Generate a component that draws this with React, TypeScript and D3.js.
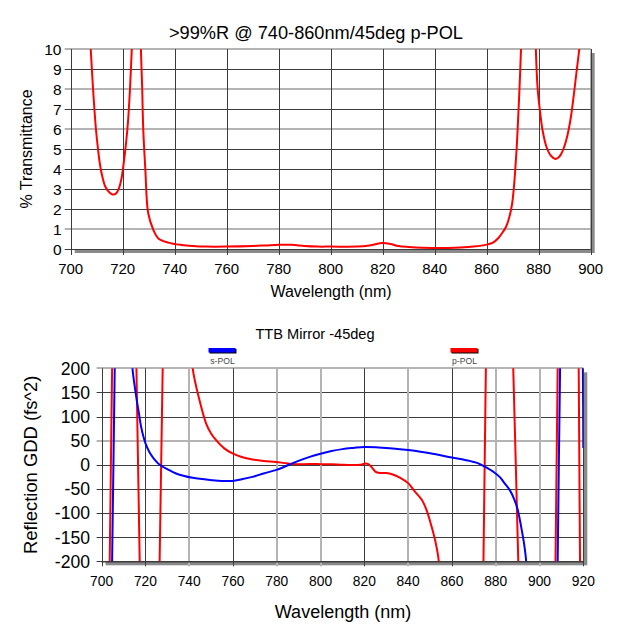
import React from 'react';
import * as d3 from 'd3';

type P = [number, number];

// ---------- Top chart data: p-POL transmittance (%) ----------
const topTitle = '>99%R @ 740-860nm/45deg p-POL';
const topXTicks = [700, 720, 740, 760, 780, 800, 820, 840, 860, 880, 900];
const topYTicks = [0, 1, 2, 3, 4, 5, 6, 7, 8, 9, 10];
const topSoftY = [10, 8, 6, 1];

const transBandLow: P[] = [
  [706, 14], [707.7, 10], [708.6, 8], [709.7, 6], [710.5, 5], [711.3, 4.2], [712.2, 3.6],
  [713.2, 3.15], [714.5, 2.88], [715.6, 2.76], [716.6, 2.72], [717.6, 2.8], [718.6, 3.05],
  [719.5, 3.5], [720.3, 4.2], [721.2, 5.2], [722, 6.3], [722.8, 8], [723.5, 10], [724.2, 13],
];
const transPassband: P[] = [
  [726.3, 14], [727, 10], [727.5, 8], [727.9, 6], [728.7, 4], [729.8, 1.8], [731.8, 0.95],
  [733.7, 0.53], [737.5, 0.32], [742.7, 0.2], [747, 0.15], [752, 0.12], [760, 0.12],
  [770, 0.15], [775, 0.18], [780, 0.21], [785, 0.21], [790, 0.15], [795, 0.12], [800, 0.12],
  [810, 0.12], [815, 0.18], [820, 0.3], [823, 0.25], [826, 0.15], [830, 0.1], [835, 0.06],
  [840, 0.05], [845, 0.05], [850, 0.07], [855, 0.12], [860, 0.22], [862.4, 0.32],
  [864.5, 0.55], [866.2, 0.85], [867.4, 1.1], [868.5, 1.5], [869.7, 2.2], [870.4, 3],
  [871, 4], [871.5, 5], [871.9, 6], [872.6, 8], [873.2, 10], [874, 14],
];
const transBandHigh: P[] = [
  [878.3, 14], [878.9, 10], [879.6, 8], [880.4, 7], [881.4, 6], [883, 5.1], [884.8, 4.65],
  [886.5, 4.5], [887.5, 4.56], [888.5, 4.72], [889.5, 5.0], [890.5, 5.4], [891.5, 5.95],
  [892.5, 6.7], [893.5, 7.7], [894.5, 8.8], [895.6, 10], [896.4, 11.2],
];

// ---------- Bottom chart data: reflection GDD (fs^2) ----------
const botTitle = 'TTB Mirror -45deg';
const botXTicks = [700, 720, 740, 760, 780, 800, 820, 840, 860, 880, 900, 920];
const botYTicks = [-200, -150, -100, -50, 0, 50, 100, 150, 200];
const botSoftY = [200, 50];
const botSoftX = [740, 780, 800, 840, 880, 900];

const sPolSegments: P[][] = [
  [[704.6, -260], [704.8, -200], [706.0, 200], [706.2, 260]],
  [
    [713.3, 260], [714.1, 200], [715.2, 160], [716.2, 130], [717, 108], [718, 80], [719, 60],
    [720, 45], [722, 25], [724, 12], [726.5, 0], [730, -9], [734, -18], [741.6, -27],
    [750.7, -32], [755, -33.5], [759.8, -33.5], [764, -30], [768.9, -25], [774, -18],
    [779.5, -11], [783, -5], [787, 3], [794.7, 16], [800, 23], [805, 28.5], [810, 32.5],
    [815, 35], [820, 37], [826.5, 36], [833, 34], [840, 30.5], [850, 24], [860, 15],
    [866, 10], [872, 3], [875, -4], [879.5, -16.5], [882, -26], [884, -38], [886.5, -53],
    [888.6, -73], [890, -92], [891.6, -128], [893, -165], [893.9, -200], [894.3, -260],
  ],
  [[908.2, -260], [908.3, -200], [909.4, 200], [909.6, 260]],
  [[919.6, 260], [919.8, 200], [920, 35]],
];

const pPolSegments: P[][] = [
  [[703.5, -260], [703.7, -200], [704.8, 200], [705, 260]],
  [[715.7, 260], [715.9, 200], [717.4, -200], [717.6, -260]],
  [[726.3, -260], [726.5, -200], [727.9, 200], [728.1, 260]],
  [
    [741, 260], [741.6, 200], [744.7, 134], [747.7, 86], [750, 65], [752.3, 51], [756, 34],
    [759.8, 23.6], [764, 16], [768.9, 11], [774, 8], [779.5, 6], [783, 4], [787, 1.5],
    [795, 1.5], [800, 1.4], [805, 1], [810, 0], [815, -0.5], [818, 0], [820.5, 2.5],
    [822, 1], [823.5, -6], [825, -14], [827, -17], [830, -17], [833, -20], [836, -26],
    [840, -38], [843, -55], [846.3, -73], [848.5, -95], [850.7, -128], [852.5, -160],
    [854, -200], [854.4, -260],
  ],
  [[874.2, -260], [874.4, -200], [875.5, 200], [875.7, 260]],
  [[887.7, 260], [888, 200], [890.3, -200], [890.5, -260]],
  [[907.1, -260], [907.3, -200], [908.3, 200], [908.5, 260]],
  [[917.8, 260], [917.9, 200], [918.5, -200], [918.6, -260]],
];

const legendNames = ['s-POL', 'p-POL'];
const legendColors = ['#0000ff', '#ff0000'];

const FONT = "Arial, 'Liberation Sans', Helvetica, sans-serif";
const DARK = '#3c3c3c';
const SOFT = '#b4b4b4';

export default function App() {
  // top scales
  const tx = d3.scaleLinear().domain([700, 900]).range([70.7, 590.7]);
  const ty = d3.scaleLinear().domain([0, 10]).range([249, 49]);
  // bottom scales
  const bx = d3.scaleLinear().domain([700, 920]).range([101.6, 583.3]);
  const by = d3.scaleLinear().domain([-200, 200]).range([561.3, 368.3]);

  const curve = d3.curveCatmullRom.alpha(0.5);
  const topLine = d3.line<P>().x((d) => tx(d[0])).y((d) => ty(d[1])).curve(curve);
  const botLine = d3.line<P>().x((d) => bx(d[0])).y((d) => by(d[1])).curve(curve);

  const [tx0, tx1] = tx.range();
  const [ty0, ty1] = [ty(10), ty(0)];
  const [bx0, bx1] = bx.range();
  const [by0, by1] = [by(200), by(-200)];

  return (
    <svg
      width={632}
      height={639}
      style={{ position: 'absolute', left: 0, top: 0, background: '#fff' }}
      fontFamily={FONT}
    >
      <defs>
        <clipPath id="clipTop">
          <rect x={tx0} y={ty0} width={tx1 - tx0} height={ty1 - ty0} />
        </clipPath>
        <clipPath id="clipBot">
          <rect x={bx0} y={by0} width={bx1 - bx0} height={by1 - by0} />
        </clipPath>
      </defs>
      <rect x={0} y={0} width={632} height={639} fill="#fff" />

      {/* ================= TOP CHART ================= */}
      <text x={316} y={33} textAnchor="middle" dy="0.35em" fontSize={18.2} fill="#000">
        {topTitle}
      </text>
      {/* shadow */}
      <rect x={tx0 + 4} y={ty0 + 4} width={tx1 - tx0} height={ty1 - ty0} fill="#8a8a8a" />
      <rect x={tx0} y={ty0} width={tx1 - tx0} height={ty1 - ty0} fill="#fff" />
      {topYTicks.map((v) => {
        const soft = topSoftY.includes(v);
        const y = Math.round(ty(v)) + (soft ? 0 : 0.5);
        return (
          <g key={'ty' + v}>
            <line x1={tx0 - 6} x2={tx1} y1={y} y2={y} stroke={soft ? SOFT : DARK} strokeWidth={soft ? 2 : 1} />
            <text x={61.5} y={ty(v)} textAnchor="end" dy="0.36em" fontSize={15.5} fill="#000">
              {v}
            </text>
          </g>
        );
      })}
      {topXTicks.map((v) => {
        const x = Math.round(tx(v)) + 0.5;
        return (
          <g key={'tx' + v}>
            <line x1={x} x2={x} y1={ty0} y2={ty1 + 6} stroke={DARK} strokeWidth={1} />
            <text x={tx(v)} y={268.5} textAnchor="middle" dy="0.36em" fontSize={15} fill="#000">
              {v}
            </text>
          </g>
        );
      })}
      <line x1={tx1 + 0.5} x2={tx1 + 0.5} y1={ty0} y2={ty1} stroke={DARK} />
      <g clipPath="url(#clipTop)" fill="none" stroke="#ff0000" strokeWidth={2}>
        <path d={topLine(transBandLow) || ''} />
        <path d={topLine(transPassband) || ''} />
        <path d={topLine(transBandHigh) || ''} />
      </g>
      <text x={331} y={291.5} textAnchor="middle" dy="0.36em" fontSize={16} fill="#000">
        Wavelength (nm)
      </text>
      <text
        transform={`translate(26,${(ty0 + ty1) / 2}) rotate(-90)`}
        textAnchor="middle"
        dy="0.36em"
        fontSize={16}
        fill="#000"
      >
        % Transmittance
      </text>

      {/* ================= BOTTOM CHART ================= */}
      <text x={315} y={334} textAnchor="middle" dy="0.36em" fontSize={14.6} fill="#000">
        {botTitle}
      </text>
      {legendNames.map((n, i) => {
        const cx = i === 0 ? 222.5 : 464.5;
        return (
          <g key={n}>
            <rect x={cx - 13} y={349} width={27} height={4.5} fill="#000" />
            <rect x={cx - 14} y={348} width={27} height={4.5} fill={legendColors[i]} />
            <text x={cx} y={361} textAnchor="middle" dy="0.36em" fontSize={8.6} fill="#444">
              {n}
            </text>
          </g>
        );
      })}
      <rect x={bx0 + 4} y={by0 + 4} width={bx1 - bx0} height={by1 - by0} fill="#8a8a8a" />
      <rect x={bx0} y={by0} width={bx1 - bx0} height={by1 - by0} fill="#fff" />
      {botYTicks.map((v) => {
        const soft = botSoftY.includes(v);
        const y = Math.round(by(v)) + (soft ? 0 : 0.5);
        return (
          <g key={'by' + v}>
            <line x1={bx0 - 5} x2={bx1} y1={y} y2={y} stroke={soft ? SOFT : DARK} strokeWidth={soft ? 2 : 1} />
            <text x={90} y={by(v)} textAnchor="end" dy="0.36em" fontSize={17.6} fill="#000">
              {v}
            </text>
          </g>
        );
      })}
      {botXTicks.map((v) => {
        const soft = botSoftX.includes(v);
        const x = Math.round(bx(v)) + (soft ? 0 : 0.5);
        return (
          <g key={'bx' + v}>
            <line x1={x} x2={x} y1={by0} y2={by1 + 5} stroke={soft ? SOFT : DARK} strokeWidth={soft ? 2 : 1} />
            <text x={bx(v)} y={581.5} textAnchor="middle" dy="0.36em" fontSize={13.8} fill="#000">
              {v}
            </text>
          </g>
        );
      })}
      <line x1={bx0} x2={bx1} y1={by1 + 0.5} y2={by1 + 0.5} stroke={DARK} strokeWidth={1.5} />
      <g clipPath="url(#clipBot)" fill="none" strokeWidth={2}>
        {pPolSegments.map((s, i) => (
          <path key={'p' + i} d={botLine(s) || ''} stroke="#ff0000" />
        ))}
        {sPolSegments.map((s, i) => (
          <path key={'s' + i} d={botLine(s) || ''} stroke="#0000ff" />
        ))}
      </g>
      <text x={343} y={611.5} textAnchor="middle" dy="0.36em" fontSize={18} fill="#000">
        Wavelength (nm)
      </text>
      <text
        transform={`translate(30,${(by0 + by1) / 2}) rotate(-90)`}
        textAnchor="middle"
        dy="0.36em"
        fontSize={18.4}
        fill="#000"
      >
        Reflection GDD (fs^2)
      </text>
    </svg>
  );
}
